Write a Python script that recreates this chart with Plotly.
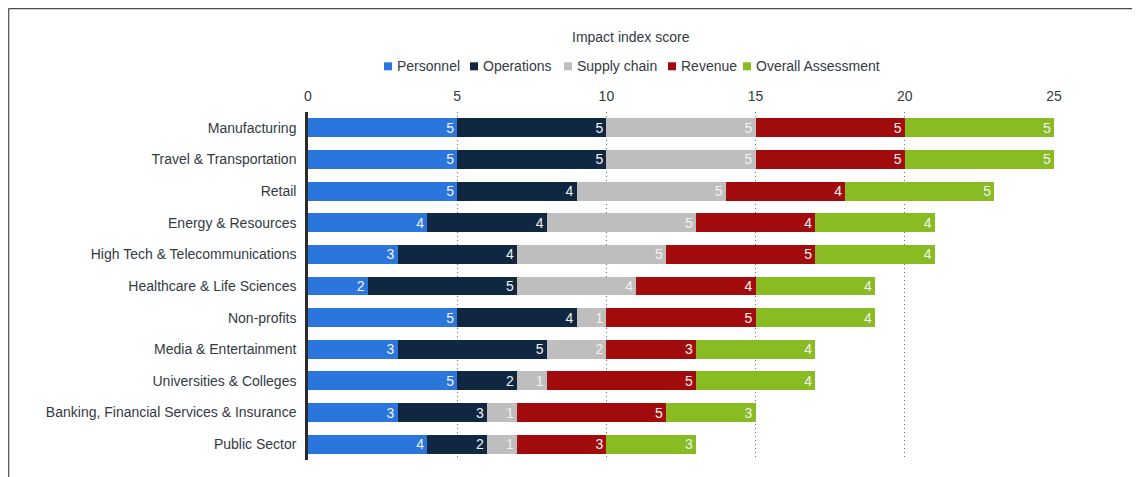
import plotly.graph_objects as go

categories = [
    "Manufacturing",
    "Travel & Transportation",
    "Retail",
    "Energy & Resources",
    "High Tech & Telecommunications",
    "Healthcare & Life Sciences",
    "Non-profits",
    "Media & Entertainment",
    "Universities & Colleges",
    "Banking, Financial Services & Insurance",
    "Public Sector",
]
personnel = [5, 5, 5, 4, 3, 2, 5, 3, 5, 3, 4]
operations = [5, 5, 4, 4, 4, 5, 4, 5, 2, 3, 2]
supply_chain = [5, 5, 5, 5, 5, 4, 1, 2, 1, 1, 1]
revenue = [5, 5, 4, 4, 5, 4, 5, 3, 5, 5, 3]
overall = [5, 5, 5, 4, 4, 4, 4, 4, 4, 3, 3]

series_names = ["Personnel", "Operations", "Supply chain", "Revenue", "Overall Assessment"]
series_values = [personnel, operations, supply_chain, revenue, overall]
series_colors = ["#2a76dc", "#0f2740", "#bebebe", "#a30c0c", "#89bb23"]
x_ticks = [0, 5, 10, 15, 20, 25]
axis_title = "Impact index score"

FONT = "Liberation Sans, Arial, Helvetica, sans-serif"
TXT = "#333a44"

fig = go.Figure()
for name, vals, color in zip(series_names, series_values, series_colors):
    fig.add_trace(go.Bar(
        name=name,
        y=categories,
        x=vals,
        orientation="h",
        marker=dict(color=color, line=dict(width=0)),
        text=vals,
        textposition="inside",
        insidetextanchor="end",
        textangle=0,
        constraintext="none",
        textfont=dict(color="#f2f2f2", size=14, family=FONT),
        hoverinfo="x+y+name",
        showlegend=False,
    ))

# page offset (browser body margin) between screenshot pixels and figure pixels
OFF = 8
W, H = 1132, 469
L, R, T, B = 300, 86, 104, 17
pw = W - L - R
ph = H - T - B


def px_x(p):
    """screenshot x pixel -> paper coordinate"""
    return (p - OFF - L) / pw


def px_y(p):
    """screenshot y pixel -> paper coordinate"""
    return (H - B - (p - OFF)) / ph


fig.update_layout(
    width=W,
    height=H,
    barmode="stack",
    bargap=0.4,
    margin=dict(l=L, r=R, t=T, b=B, pad=0),
    paper_bgcolor="white",
    plot_bgcolor="white",
    font=dict(family=FONT, size=14, color=TXT),
    showlegend=False,
    xaxis=dict(
        range=[0, 25],
        tickvals=x_ticks,
        side="top",
        showgrid=True,
        gridcolor="#6f6f6f",
        griddash="1px,3px",
        gridwidth=1,
        zeroline=False,
        showline=False,
        ticks="outside",
        ticklen=4,
        tickcolor="rgba(0,0,0,0)",
        tickfont=dict(size=14, color=TXT, family=FONT),
        fixedrange=True,
    ),
    yaxis=dict(
        autorange="reversed",
        showgrid=False,
        zeroline=False,
        showline=True,
        linecolor="#2b2b2b",
        linewidth=2.5,
        ticks="outside",
        ticklen=6,
        tickcolor="rgba(0,0,0,0)",
        tickfont=dict(size=14, color=TXT, family=FONT),
        fixedrange=True,
    ),
)

# axis title above the legend
fig.add_annotation(
    text=axis_title, xref="paper", yref="paper",
    x=px_x(631), y=px_y(37), xanchor="center", yanchor="middle",
    showarrow=False, font=dict(size=14, color=TXT, family=FONT),
)

# legend row (key squares + labels)
legend_key_x = [384, 470, 564, 668, 743]
legend_y = 66.3
for name, color, kx in zip(series_names, series_colors, legend_key_x):
    fig.add_shape(
        type="rect", xref="paper", yref="paper",
        x0=px_x(kx), x1=px_x(kx + 8),
        y0=px_y(legend_y + 4), y1=px_y(legend_y - 4),
        fillcolor=color, line=dict(width=0),
    )
    fig.add_annotation(
        text=name, xref="paper", yref="paper",
        x=px_x(kx + 11), y=px_y(legend_y), xanchor="left", yanchor="middle",
        showarrow=False, font=dict(size=14, color=TXT, family=FONT),
    )

# outer frame (top and left edges visible in the reference)
fig.add_shape(type="line", xref="paper", yref="paper",
              x0=px_x(8.5), x1=px_x(1160), y0=px_y(8.7), y1=px_y(8.7),
              line=dict(color="#4a4a4a", width=1.2))
fig.add_shape(type="line", xref="paper", yref="paper",
              x0=px_x(8.7), x1=px_x(8.7), y0=px_y(8.5), y1=px_y(500),
              line=dict(color="#4a4a4a", width=1.2))

fig.write_html("out.html")
